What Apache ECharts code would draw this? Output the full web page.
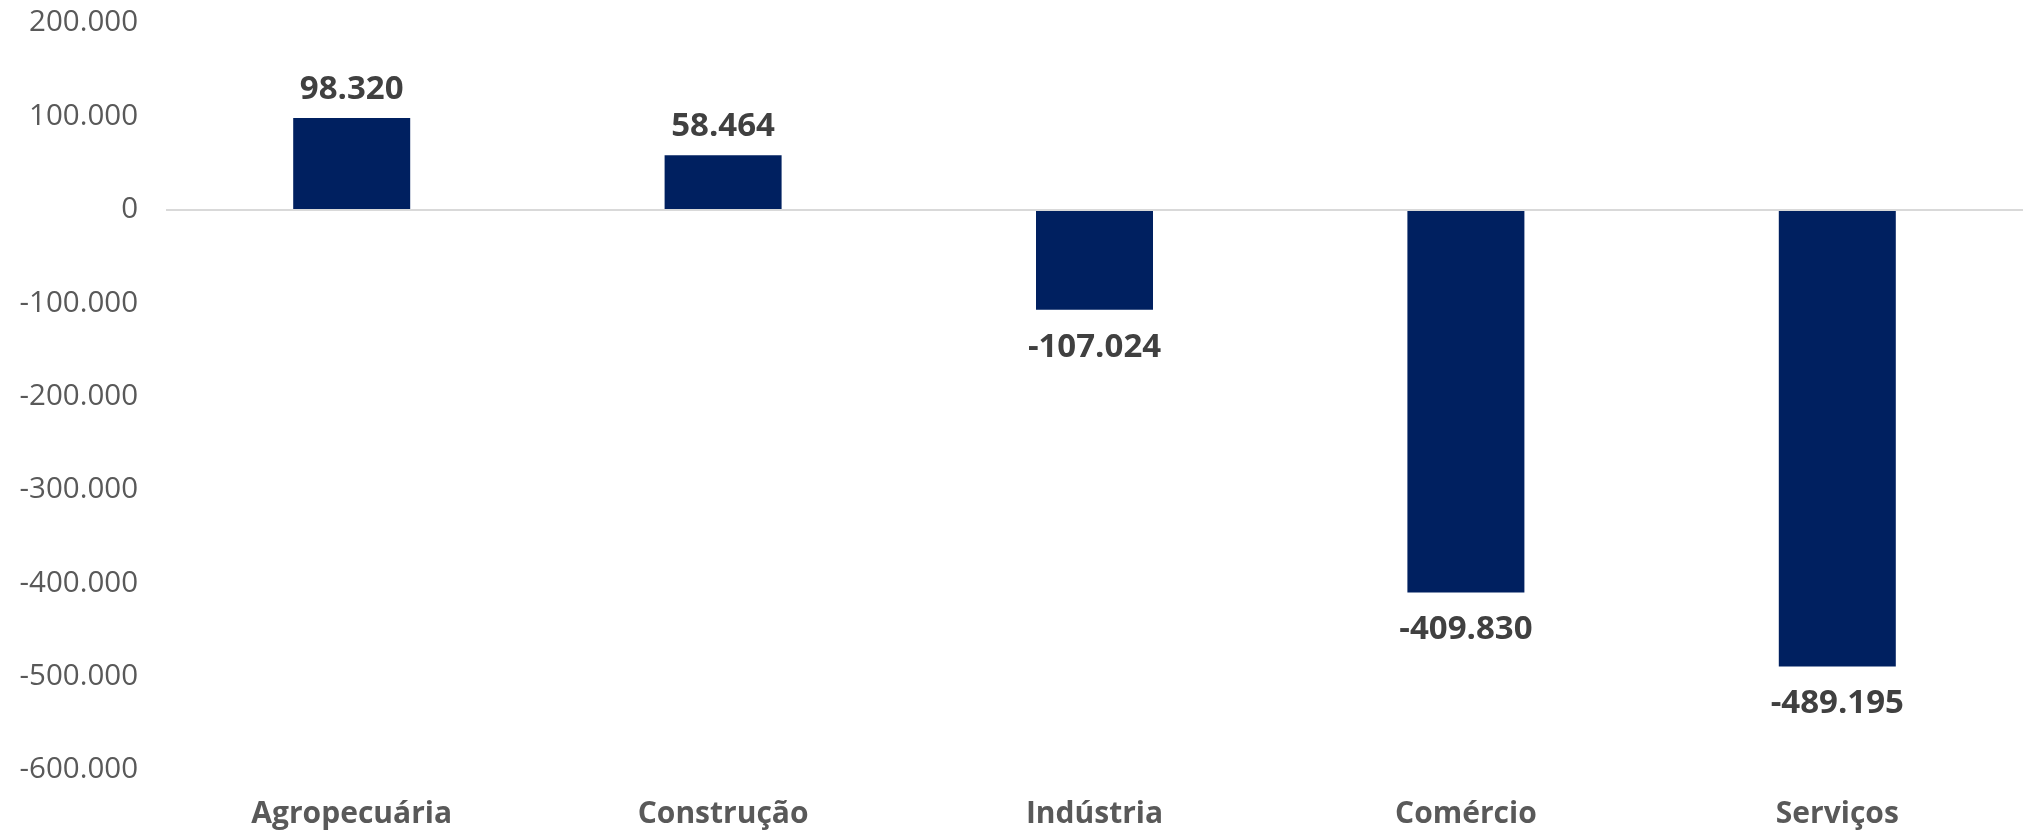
<!DOCTYPE html>
<html>
<head>
<meta charset="utf-8">
<script src="https://cdn.jsdelivr.net/npm/echarts@6/dist/echarts.min.js"></script>
<style>
html,body{margin:0;padding:0;background:#fff;}
#c{width:2023px;height:832px;}
</style>
</head>
<body>
<div id="c"></div>
<script>
const categories = ['Agropecuária', 'Construção', 'Indústria', 'Comércio', 'Serviços'];
const values = [98320, 58464, -107024, -409830, -489195];
const yMin = -600000;
const yMax = 200000;
const yStep = 100000;

function fmt(v) {
  const s = Math.abs(v).toString().replace(/\B(?=(\d{3})+(?!\d))/g, '.');
  return (v < 0 ? '-' : '') + s;
}

const FONT = '"Open Sans", Lato, "DejaVu Sans", sans-serif';
const chart = echarts.init(document.getElementById('c'), null, {renderer: 'canvas'});
chart.setOption({
  animation: false,
  backgroundColor: '#ffffff',
  grid: {left: 166, right: -4, top: 23, bottom: 62, containLabel: false},
  xAxis: {
    type: 'category',
    data: categories,
    position: 'bottom',
    axisLine: {show: false, onZero: false},
    axisTick: {show: false},
    axisLabel: {
      color: '#595959', fontSize: 30, fontWeight: 'bold', fontFamily: FONT, margin: 29
    }
  },
  yAxis: {
    type: 'value',
    min: yMin, max: yMax, interval: yStep,
    axisLine: {show: false},
    axisTick: {show: false},
    splitLine: {show: false},
    axisLabel: {
      color: '#595959', fontSize: 29.5, fontFamily: FONT, margin: 28,
      formatter: fmt
    }
  },
  series: [{
    type: 'bar',
    data: values.map(v => ({
      value: v,
      label: {position: v >= 0 ? 'top' : 'bottom', distance: v >= 0 ? 12 : 21}
    })),
    barWidth: 117,
    itemStyle: {color: '#002060'},
    label: {
      show: true,
      color: '#404040', fontSize: 33, fontWeight: 'bold', fontFamily: FONT,
      formatter: p => fmt(p.value)
    },
    markLine: {
      silent: true,
      symbol: ['none', 'none'],
      label: {show: false},
      lineStyle: {color: '#D9D9D9', width: 2, type: 'solid'},
      data: [{yAxis: 0}]
    },
    z: 3
  }]
});
</script>
</body>
</html>
